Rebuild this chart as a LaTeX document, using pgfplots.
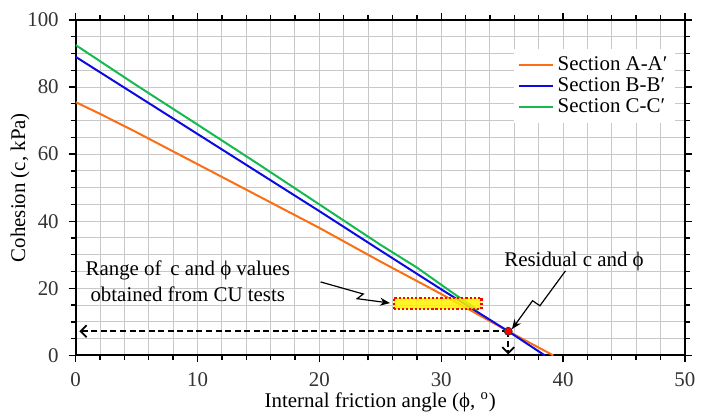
\documentclass[border=0pt]{standalone}
\usepackage{pgfplots}
\pgfplotsset{compat=1.18}
\usepackage{fontspec}
\setmainfont{Liberation Serif}
\usetikzlibrary{arrows.meta}
\definecolor{secA}{RGB}{250,110,20}
\definecolor{secB}{RGB}{10,10,225}
\definecolor{secC}{RGB}{20,185,80}
\definecolor{gridc}{RGB}{200,200,200}
\begin{document}
\begin{tikzpicture}
\begin{axis}[
  width=306pt, height=168.5pt, scale only axis,
  xmin=0, xmax=50, ymin=0, ymax=100,
  xtick={0,10,...,50}, ytick={0,20,...,100},
  minor xtick={0,2,...,50}, minor ytick={0,5,...,100},
  xmajorgrids, ymajorgrids, xminorgrids, yminorgrids,
  major grid style={gridc, line width=0.5pt},
  minor grid style={gridc, line width=0.5pt},
  tick align=outside,
  major tick length=3.5pt, minor tick length=2.5pt,
  tick style={black, line width=0.7pt},
  axis line style={black, line width=1pt},
  /pgf/number format/assume math mode=true,
  ticklabel style={font=\fontsize{10.5}{12}\selectfont, text=black!80},
  xticklabel style={yshift=-1.5pt},
  yticklabel style={xshift=-1.5pt},
  label style={font=\fontsize{10.5}{12}\selectfont},
  xlabel={Internal friction angle (ϕ, \textsuperscript{o})},
  ylabel={Cohesion (c, kPa)},
  xlabel style={at={(axis description cs:0.5,0)}, anchor=center, yshift=-23.5pt},
  ylabel style={yshift=-8pt},
  legend style={at={(rel axis cs:0.985,0.915)}, anchor=north east, draw=none,
    fill=white, font=\fontsize{10.5}{12}\selectfont, row sep=-2pt,
    inner sep=2pt},
  legend cell align=left,
  legend image post style={line width=1.1pt},
]
\addplot[secA, line width=1pt] coordinates {
  (0,75.5) (2,72) (5,66.5) (10,57) (15,47.5) (20,38) (25,28) (30,18.3) (35.5,7.2) (39.2,0)};
\addlegendentry{Section A-A′}
\addplot[secB, line width=1pt] coordinates {
  (0,89) (5,77.5) (10,66) (15,54.5) (20,43) (25,31.3) (30,19.7) (35.5,7.2) (38.5,0)};
\addlegendentry{Section B-B′}
\addplot[secC, line width=1pt] coordinates {
  (0,92.5) (5,80.5) (10,68.8) (15,57) (20,45) (25,33) (28,26.2) (31,18.5) (33,13.5)};
\addlegendentry{Section C-C′}
% CU test range box
\addplot[draw=red, fill=yellow, fill opacity=0.85, densely dotted, line width=1.1pt, forget plot]
  coordinates {(26.1,13.8) (33.3,13.8) (33.3,17.2) (26.1,17.2)} -- cycle;
% residual point and dashed guides
\draw[dash pattern=on 3pt off 1.8pt, line width=0.9pt, -{Straight Barb[length=3pt,width=6pt]}] (axis cs:35.5,7.2) -- (axis cs:0.3,7.2);
\draw[dash pattern=on 3pt off 1.8pt, line width=0.9pt, -{Straight Barb[length=3pt,width=6pt]}] (axis cs:35.5,7.2) -- (axis cs:35.5,0.3);
\addplot[only marks, mark=*, mark size=2pt, mark options={fill=red, draw=black!80}, forget plot]
  coordinates {(35.5,7.2)};
% annotations
\node[align=center, font=\fontsize{10.5}{13}\selectfont] at (axis cs:9.2,22)
  {Range of\, c and ϕ values\\obtained from CU tests};
\draw[line width=0.6pt, -{Stealth[length=5pt,width=4pt]}]
  (axis cs:20.1,21.9) -- (axis cs:23.6,18.3) -- (axis cs:23.1,16.9) -- (axis cs:25.8,15.6);
\node[font=\fontsize{10.5}{12}\selectfont] at (axis cs:40.9,28) {Residual c and ϕ};
\draw[line width=0.6pt, -{Stealth[length=5pt,width=4pt]}]
  (axis cs:40.2,25.2) -- (axis cs:38.1,14.8) -- (axis cs:37.5,16.3) -- (axis cs:35.8,7.8);
\end{axis}
\path ([yshift=10pt]current axis.north) ([yshift=-28.5pt]current axis.south)
  ([xshift=-38pt]current axis.west) ([xshift=7pt]current axis.east);
\end{tikzpicture}
\end{document}
